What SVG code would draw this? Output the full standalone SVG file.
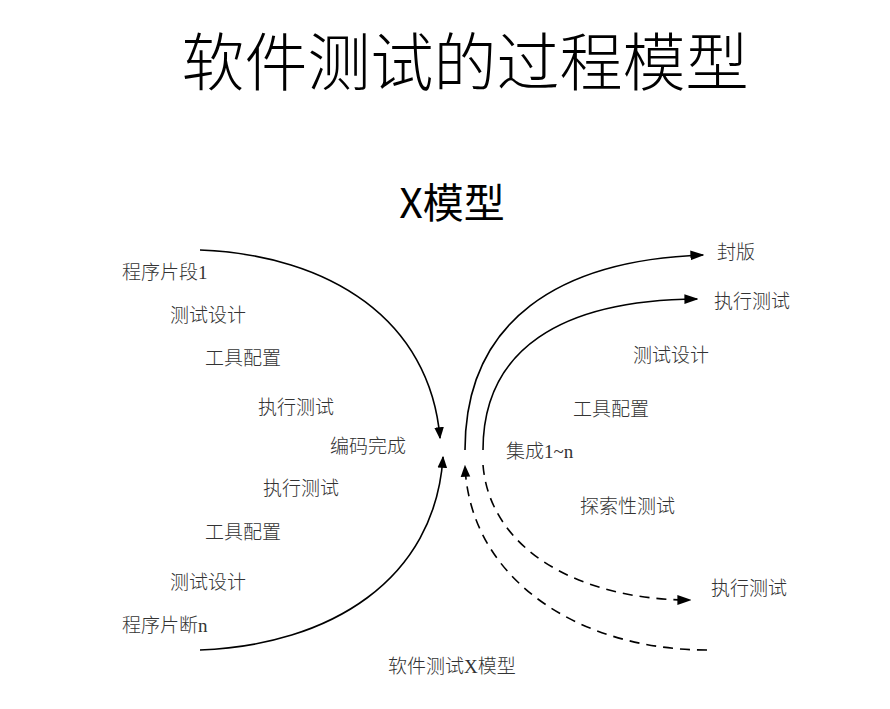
<svg xmlns="http://www.w3.org/2000/svg" width="890" height="709" viewBox="0 0 890 709">
<style>
.t{font-family:"Liberation Serif","Noto Sans CJK SC",serif;font-size:19px;font-weight:300;fill:#333}
.c{fill:none;stroke:#000;stroke-width:1.6}
.d{stroke-dasharray:10,7}
</style>
<defs><marker id="a" viewBox="0 0 10 10" refX="9" refY="5" markerWidth="12" markerHeight="12" markerUnits="userSpaceOnUse" orient="auto"><path d="M0,1 L10,5 L0,9z" fill="#000"/></marker>
<marker id="b" viewBox="0 0 10 10" refX="9" refY="5" markerWidth="14" markerHeight="14" markerUnits="userSpaceOnUse" orient="auto"><path d="M0,1.5 L10,5 L0,8.5z" fill="#000"/></marker></defs>
<rect width="890" height="709" fill="#fff"/>
<text x="465" y="85" text-anchor="middle" style="font-family:'Noto Sans CJK SC',sans-serif;font-size:63px;font-weight:300">软件测试的过程模型</text>
<text x="452" y="218" text-anchor="middle" style="font-family:'Noto Sans CJK SC',sans-serif;font-size:41px">X模型</text>
<g id="connectors">
<path class="c" d="M200,250 C330,255 430,320 440,438" marker-end="url(#a)"/>
<path class="c" d="M200,650 C330,645 435,580 443,457" marker-end="url(#a)"/>
<path class="c" d="M465,450 C465,320 560,260 703,255" marker-end="url(#b)"/>
<path class="c" d="M483,450 C483,350 560,300 697,299" marker-end="url(#b)"/>
<path class="c d" d="M707,650 C580,650 470,580 465,466" marker-end="url(#a)"/>
<path class="c d" d="M483,465 C490,550 580,600 690,600" marker-end="url(#b)"/>
</g>
<g id="labels">
<text class="t" x="122" y="279">程序片段1</text>
<text class="t" x="170" y="322">测试设计</text>
<text class="t" x="205" y="365">工具配置</text>
<text class="t" x="258" y="414">执行测试</text>
<text class="t" x="330" y="453">编码完成</text>
<text class="t" x="263" y="495">执行测试</text>
<text class="t" x="205" y="539">工具配置</text>
<text class="t" x="170" y="589">测试设计</text>
<text class="t" x="122" y="632">程序片断n</text>
<text class="t" x="717" y="259">封版</text>
<text class="t" x="714" y="308">执行测试</text>
<text class="t" x="633" y="362">测试设计</text>
<text class="t" x="573" y="416">工具配置</text>
<text class="t" x="506" y="458">集成1~n</text>
<text class="t" x="580" y="513">探索性测试</text>
<text class="t" x="711" y="595">执行测试</text>
<text class="t" x="388" y="673">软件测试X模型</text>
</g>
</svg>
